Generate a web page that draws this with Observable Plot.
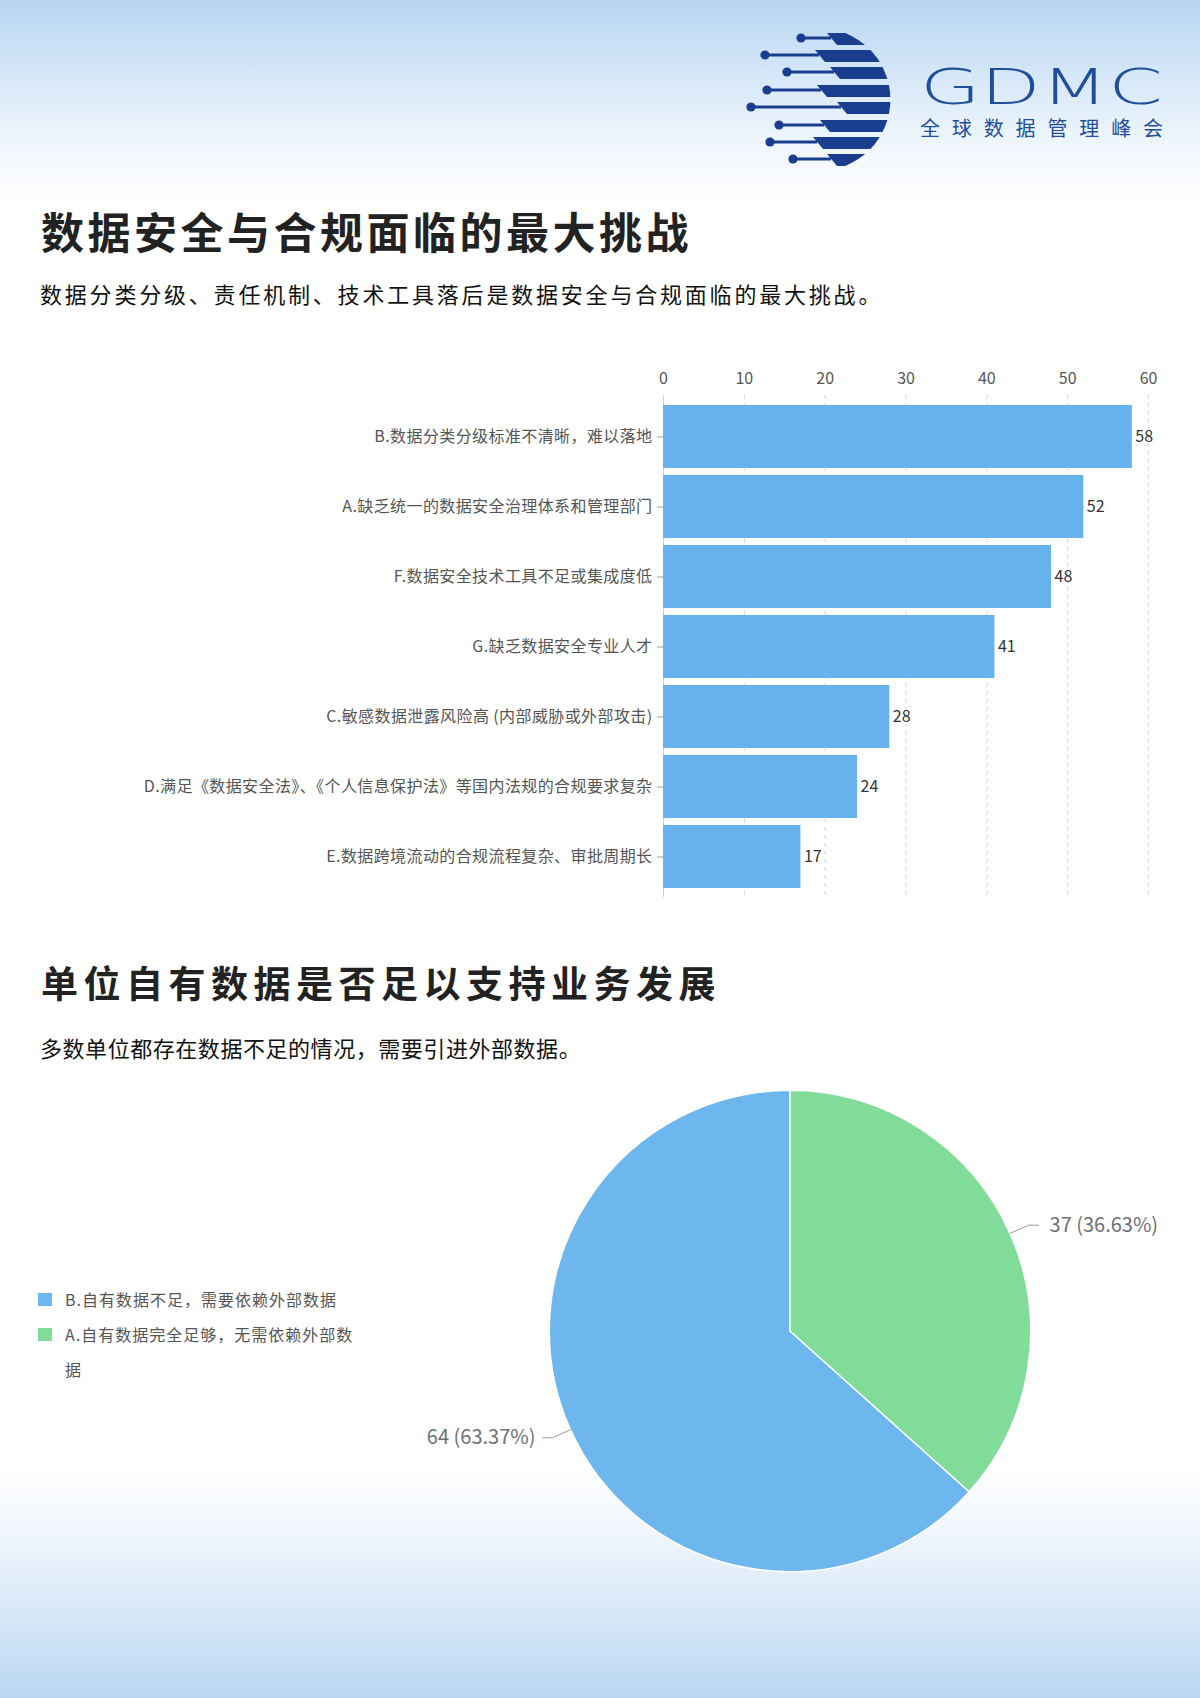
<!DOCTYPE html>
<html>
<head>
<meta charset="utf-8">
<script src="https://cdn.jsdelivr.net/npm/d3@7"></script>
<script src="https://cdn.jsdelivr.net/npm/@observablehq/plot@0.6"></script>
<style>
  body { margin: 0; }
  #page {
    position: relative; width: 1200px; height: 1698px; overflow: hidden;
    font-family: "Noto Sans CJK SC", "Noto Sans", sans-serif;
    background: linear-gradient(to bottom,
      #b7d5f2 0px, #d4e6f8 70px, #eef5fc 140px, #ffffff 200px,
      #ffffff 1470px, #eef5fc 1540px, #d3e5f7 1625px, #b9d6f2 1698px);
  }
  .abs { position: absolute; white-space: nowrap; }
  .title { font-weight: 700; color: #222; }
  .sub { color: #111; font-weight: 400; }
  #legend { position: absolute; left: 38px; top: 1282px; font-size: 16px; letter-spacing: 1px; color: #555; }
  .item { display: flex; align-items: flex-start; line-height: 35px; }
  .sw { width: 14px; height: 13px; margin-top: 11px; margin-right: 13px; flex: none; }
  .lt { width: 298px; word-break: break-all; white-space: normal; }
  .barplot g[aria-label="y-axis tick label"] text { letter-spacing: 0.4px; }
</style>
</head>
<body>
<div id="page">
  <svg class="abs" style="left:0;top:0" width="1200" height="190" id="logo">
    <defs><clipPath id="disk"><circle cx="819" cy="99.5" r="71.4"/></clipPath></defs>
    <g id="stripes"></g>
    <text x="920" y="104" font-family="DejaVu Sans" font-weight="200" font-size="50" fill="#1f4f9a" textLength="243" lengthAdjust="spacingAndGlyphs">GDMC</text>
    <text x="920" y="127" font-family="Noto Sans CJK SC" font-size="20" fill="#1f4f9a" dominant-baseline="central" textLength="243" lengthAdjust="spacing">全球数据管理峰会</text>
  </svg>

  <div class="abs title" style="left:41px;top:209px;font-size:43px;line-height:43px;letter-spacing:3.5px;">数据安全与合规面临的最大挑战</div>
  <div class="abs sub" style="left:40px;top:282px;font-size:22px;line-height:22px;letter-spacing:2.8px;">数据分类分级、责任机制、技术工具落后是数据安全与合规面临的最大挑战。</div>

  <div class="abs title" style="left:41px;top:964px;font-size:37px;line-height:37px;letter-spacing:5.5px;">单位自有数据是否足以支持业务发展</div>
  <div class="abs sub" style="left:40px;top:1036px;font-size:22px;line-height:22px;letter-spacing:0.55px;">多数单位都存在数据不足的情况，需要引进外部数据。</div>

  <div id="legend"></div>
</div>
<script>
// ---------- data ----------
const barCategories = [
  "B.数据分类分级标准不清晰，难以落地",
  "A.缺乏统一的数据安全治理体系和管理部门",
  "F.数据安全技术工具不足或集成度低",
  "G.缺乏数据安全专业人才",
  "C.敏感数据泄露风险高 (内部威胁或外部攻击)",
  "D.满足《数据安全法》、《个人信息保护法》等国内法规的合规要求复杂",
  "E.数据跨境流动的合规流程复杂、审批周期长"
];
const barValues = [58, 52, 48, 41, 28, 24, 17];
const xTicks = [0, 10, 20, 30, 40, 50, 60];

const pieCategories = [
  "B.自有数据不足，需要依赖外部数据",
  "A.自有数据完全足够，无需依赖外部数据"
];
const pieValues = [64, 37];
const pieColors = ["#6db6ee", "#80dc98"];

// ---------- logo (decoration) ----------
(function () {
  const rows = [[39,801,827],[56,765,815],[73,787,830],[91,767,817],[108,751,837],[126,779,820],[143,770,813],[160,793,827]];
  const g = d3.select("#stripes");
  const col = "#1a3e8e";
  rows.forEach(([y, dot, st]) => {
    g.append("polygon").attr("clip-path", "url(#disk)")
      .attr("points", `${st},${y-6} 900,${y-6} 900,${y+6} ${st+10},${y+6}`).attr("fill", col);
    g.append("line").attr("x1", dot).attr("x2", st + 4).attr("y1", y - 1).attr("y2", y - 1)
      .attr("stroke", col).attr("stroke-width", 3);
    g.append("circle").attr("cx", dot).attr("cy", y - 1).attr("r", 4.6).attr("fill", col);
  });
})();

const font = '"Noto Sans CJK SC","Noto Sans",sans-serif';
const page = document.getElementById("page");

// ---------- bar chart ----------
const barData = barCategories.map((c, i) => ({cat: c, value: barValues[i]}));
const bar = Plot.plot({
  className: "barplot",
  width: 1200, height: 580,
  marginTop: 55, marginBottom: 23, marginLeft: 663, marginRight: 52,
  x: {domain: [0, 60], axis: null},
  y: {domain: barCategories, padding: 0.1, axis: null},
  style: {background: "transparent", fontFamily: font, overflow: "visible"},
  marks: [
    Plot.gridX(xTicks.slice(1), {stroke: "#d6d6d6", strokeOpacity: 1, strokeDasharray: "4,4"}),
    Plot.axisX(xTicks, {anchor: "top", tickSize: 0, tickPadding: 12, fontSize: 16, fill: "#555", label: null}),
    Plot.ruleX([0], {stroke: "#cfcfcf"}),
    Plot.barX(barData, {x: "value", y: "cat", fill: "#65b2ec"}),
    Plot.text(barData, {x: "value", y: "cat", text: d => String(d.value), textAnchor: "start", dx: 3, fontSize: 16, fill: "#333"}),
    Plot.axisY({tickSize: 6, tickPadding: 5, fontSize: 16, fill: "#555", stroke: "#999", label: null})
  ]
});
bar.style.position = "absolute"; bar.style.left = "0px"; bar.style.top = "340px";
page.appendChild(bar);

// ---------- pie chart ----------
const cx = 790, cy = 1331, R = 240.7, top0 = 1080, H = 520;
const total = d3.sum(pieValues);
const pieData = pieCategories.map((c, i) => ({cat: c, value: pieValues[i], color: pieColors[i]}));
const arcs = d3.pie().value(d => d.value).sortValues((a, b) => a - b)(pieData);
const k1 = 1 + 20 / R, k2 = 10 / R;
const leaders = [], labels = [];
arcs.forEach(a => {
  const m = (a.startAngle + a.endAngle) / 2, s = Math.sin(m), c = Math.cos(m), side = s >= 0 ? 1 : -1;
  const p2x = s * k1 + side * k2, p2y = c * k1;
  leaders.push({cat: a.data.cat, x: s, y: c}, {cat: a.data.cat, x: s * k1, y: c * k1}, {cat: a.data.cat, x: p2x, y: p2y});
  labels.push({side, x: p2x, y: p2y, text: `${a.data.value} (${(a.data.value / total * 100).toFixed(2)}%)`});
});

function sliceMark(...args) {
  const scales = args.find(a => a && typeof a.x === "function" && typeof a.y === "function");
  const x0 = scales.x(0), y0 = scales.y(0), r = scales.x(1) - x0;
  const arc = d3.arc().innerRadius(0).outerRadius(r);
  const g = d3.create("svg:g").attr("transform", `translate(${x0},${y0})`);
  g.selectAll("path").data(arcs).join("path")
    .attr("d", arc).attr("fill", d => d.data.color)
    .attr("stroke", "#fff").attr("stroke-width", 1.5).attr("stroke-linejoin", "round");
  return g.node();
}

const pie = Plot.plot({
  width: 1200, height: H,
  marginLeft: cx - R, marginRight: 1200 - cx - R,
  marginTop: cy - R - top0, marginBottom: H - (cy + R - top0),
  x: {domain: [-1, 1], axis: null},
  y: {domain: [-1, 1], axis: null},
  style: {background: "transparent", fontFamily: font, overflow: "visible"},
  marks: [
    sliceMark,
    Plot.line(leaders, {x: "x", y: "y", z: "cat", stroke: "#9a9a9a", strokeWidth: 1}),
    Plot.text(labels.filter(d => d.side > 0), {x: "x", y: "y", text: "text", textAnchor: "start", dx: 11, fontSize: 20, fill: "#6e7079"}),
    Plot.text(labels.filter(d => d.side < 0), {x: "x", y: "y", text: "text", textAnchor: "end", dx: -7, fontSize: 20, fill: "#6e7079"})
  ]
});
pie.style.position = "absolute"; pie.style.left = "0px"; pie.style.top = top0 + "px";
page.appendChild(pie);

// ---------- legend ----------
const legend = d3.select("#legend");
page.appendChild(document.getElementById("legend"));
pieCategories.forEach((c, i) => {
  const it = legend.append("div").attr("class", "item");
  it.append("div").attr("class", "sw").style("background", pieColors[i]);
  it.append("div").attr("class", "lt").text(c);
});
</script>
</body>
</html>
